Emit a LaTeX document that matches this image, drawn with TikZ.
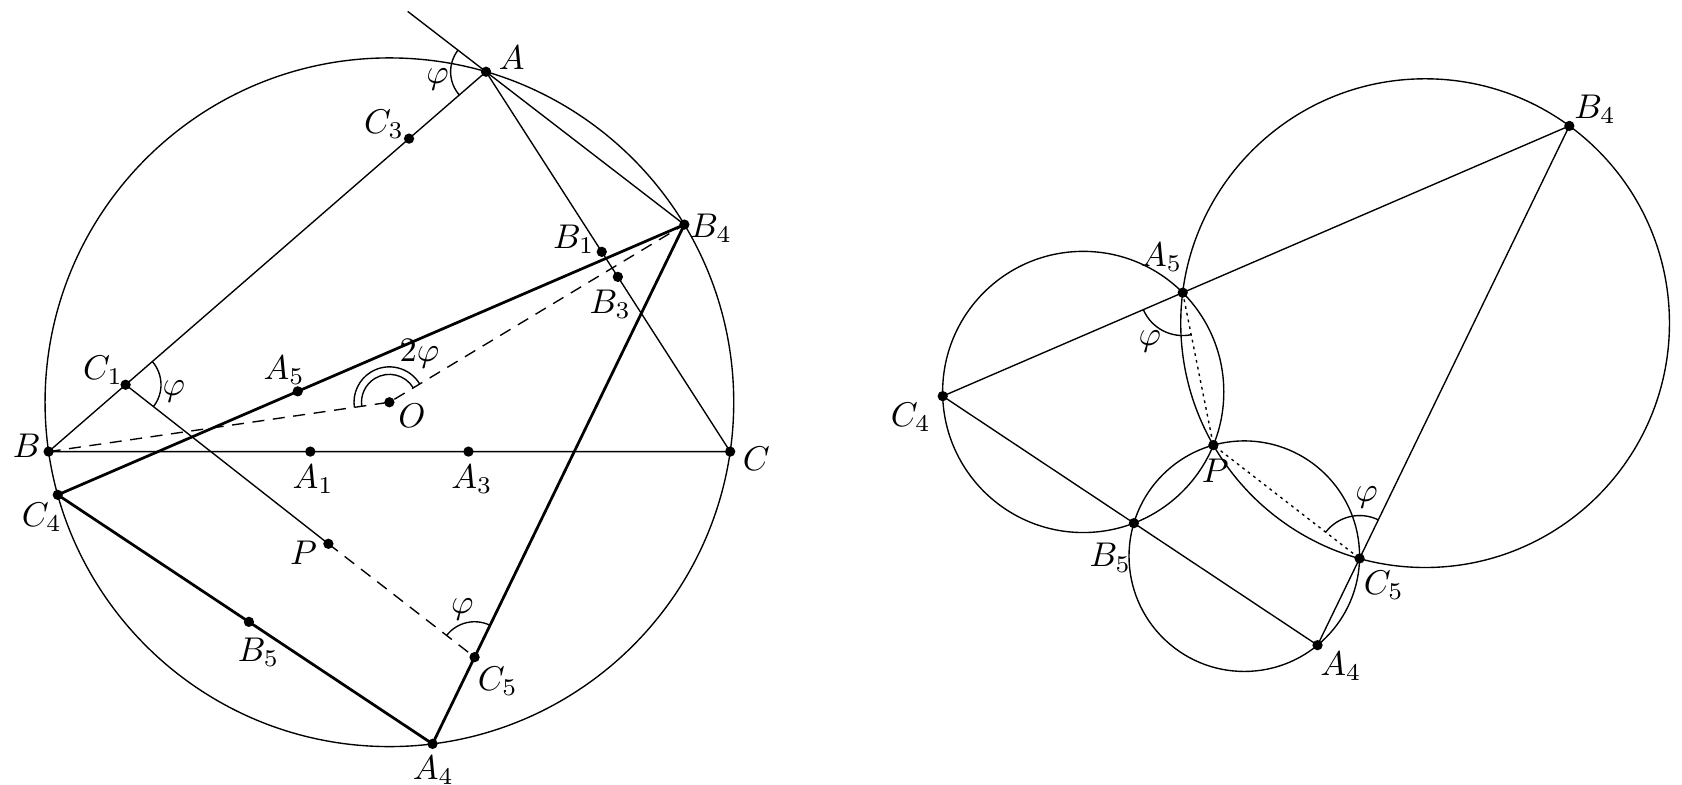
\documentclass[tikz,border=0pt]{standalone}
\usetikzlibrary{calc}
\begin{document}
\begin{tikzpicture}[x=0.3125pt,y=0.3125pt,
    heavy/.style={line width=0.8pt},
    hidden/.style={dash pattern=on 3.5pt off 2.5pt},
    dotline/.style={dash pattern=on 0.8pt off 1.2pt}]
    \useasboundingbox (0,0) rectangle (1568,-731);
    % left figure
    \coordinate (O) at (363,-375);
    \draw (O) circle[radius=321];
    \coordinate (A) at ($(O)+(73.7:321)$);
    \coordinate (B) at ($(O)+(188.24:321)$);
    \coordinate (C) at ($(O)+(-8.24:321)$);
    \coordinate (B4) at ($(O)+(31.06:321)$);
    \coordinate (C4) at ($(O)+(195.6:321)$);
    \coordinate (A4) at ($(O)+(-82.8:321)$);
    \coordinate (C1) at ($(B)!0.176!(A)$);
    \coordinate (C3) at ($(B)!0.824!(A)$);
    \coordinate (A1) at ($(B)!0.384!(C)$);
    \coordinate (A3) at ($(B)!0.616!(C)$);
    \coordinate (B1) at ($(A)!0.474!(C)$);
    \coordinate (B3) at ($(A)!0.54!(C)$);
    \coordinate (A5) at ($(C4)!0.383!(B4)$);
    \coordinate (B5) at ($(C4)!0.51!(A4)$);
    \coordinate (C5) at ($(A4)!0.167!(B4)$);
    \coordinate (P) at (306.13,-506.96);
    \coordinate (T) at ($(A)!-0.395!(B4)$);
    \draw (A) -- (B) -- (C) -- cycle;
    \draw (T) -- (B4);
    \draw (C1) -- (P);
    \draw[hidden] (P) -- (C5);
    \draw[hidden] (B) -- (O) -- (B4);
    \draw[heavy] (C4) -- (B4) -- (A4) -- cycle;
    % angles
    \draw ($(A)+(142.39:33)$) arc[start angle=142.39, end angle=220.97, radius=33];
    \draw ($(C1)+(-38.11:33)$) arc[start angle=-38.11, end angle=40.97, radius=33];
    \draw ($(C5)+(64.13:33)$) arc[start angle=64.13, end angle=142.21, radius=33];
    \draw ($(O)+(31.06:33)$) arc[start angle=31.06, end angle=188.24, radius=33];
    \draw ($(O)+(31.06:26)$) arc[start angle=31.06, end angle=188.24, radius=26];
    \foreach \p in {A,B,C,O,A1,A3,B1,B3,C1,C3,A4,B4,C4,A5,B5,C5,P}
        \fill (\p) circle[radius=1.5pt];
    \node (lA) at (477,-54) {$A$};
    \node (lphiA) at (408,-74) {$\varphi$};
    \node (lC3) at (358,-116) {$C_3$};
    \node (lB1) at (535,-223) {$B_1$};
    \node (lB4) at (663,-213) {$B_4$};
    \node (lB3) at (569,-284) {$B_3$};
    \node (lC1) at (96,-345) {$C_1$};
    \node (lphiC1) at (162,-365) {$\varphi$};
    \node (lA5) at (265,-345) {$A_5$};
    \node (l2phi) at (391,-330) {$2\varphi$};
    \node (lO) at (384,-388) {$O$};
    \node (lB) at (25,-416) {$B$};
    \node (lC) at (705,-428) {$C$};
    \node (lA1) at (292,-447) {$A_1$};
    \node (lA3) at (440,-447) {$A_3$};
    \node (lC4) at (39,-482) {$C_4$};
    \node (lP) at (283,-515) {$P$};
    \node (lphiC5) at (431,-568) {$\varphi$};
    \node (lB5) at (241,-608) {$B_5$};
    \node (lC5) at (464,-635) {$C_5$};
    \node (lA4) at (404,-718) {$A_4$};
    % right figure
    \foreach \p in {A4,B4,C4,A5,B5,C5,P}
        \coordinate (r\p) at ($(\p)+(825,92)$);
    \draw (1009.8,-365.4) circle[radius=131.06];
    \draw (1159.96,-518.49) circle[radius=107.46];
    \draw (1328.51,-301.26) circle[radius=227.79];
    \draw (rC4) -- (rB4) -- (rA4) -- cycle;
    \draw[dotline] (rA5) -- (rP) -- (rC5);
    \draw ($(rA5)+(203.33:40)$) arc[start angle=203.33, end angle=281.37, radius=40];
    \draw ($(rC5)+(64.13:40)$) arc[start angle=64.13, end angle=142.21, radius=40];
    \foreach \p in {rA4,rB4,rC4,rA5,rB5,rC5,rP}
        \fill (\p) circle[radius=1.5pt];
    \node (rlB4) at (1487,-102) {$B_4$};
    \node (rlA5) at (1083,-240) {$A_5$};
    \node (rlC4) at (849,-389) {$C_4$};
    \node (rlP) at (1133,-439) {$P$};
    \node (rlB5) at (1035,-520) {$B_5$};
    \node (rlC5) at (1290,-546) {$C_5$};
    \node (rlA4) at (1250,-621) {$A_4$};
    \node (rlphiA5) at (1072,-318) {$\varphi$};
    \node (rlphiC5) at (1274,-464) {$\varphi$};
\end{tikzpicture}
\end{document}
